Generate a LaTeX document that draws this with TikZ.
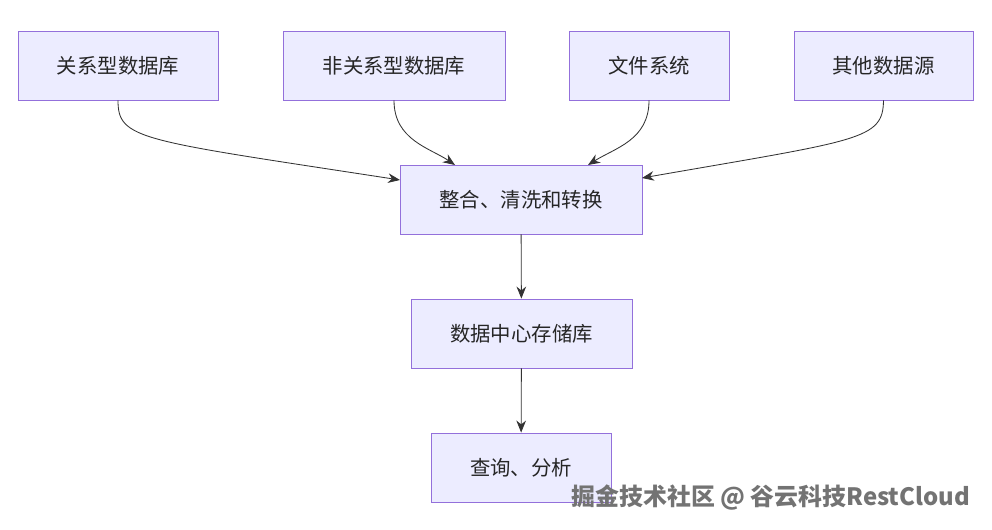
\documentclass[tikz,border=0pt]{standalone}
\usepackage{fontspec}
\newfontfamily\cjk{Noto Sans CJK SC}
\usetikzlibrary{positioning,arrows.meta}
\definecolor{boxfill}{HTML}{ECECFF}
\definecolor{boxline}{HTML}{9370DB}
\definecolor{edgecol}{HTML}{333333}
\begin{document}
\begin{tikzpicture}
[x=0.025cm, y=-0.025cm, font=\cjk\fontsize{14.5}{16}\selectfont,
    box/.style={rectangle, fill=boxfill, draw=boxline, semithick,
        minimum height=1.725cm, align=center, text=black!85},
    flow/.style={draw=edgecol, semithick, -{Stealth[length=3mm,width=2.4mm]}},
    ]
    \useasboundingbox[fill=white] (0,0) rectangle (992,530);

    % sources
    \node[box, minimum width=5cm] (rel) at (118,65.5) {关系型数据库};
    \node[box, minimum width=5.55cm] (nosql) at (394,65.5) {非关系型数据库};
    \node[box, minimum width=4cm] (files) at (649,65.5) {文件系统};
    \node[box, minimum width=4.475cm] (other) at (883.5,65.5) {其他数据源};

    % pipeline
    \node[box, minimum width=6.05cm] (merge) at (521,199.5) {整合、清洗和转换};
    \node[box, minimum width=5.525cm] (store) at (521.5,333.5) {数据中心存储库};
    \node[box, minimum width=4.5cm] (query) at (521,467.5) {查询、分析};

    \coordinate (mergeL) at (400,180);
    \coordinate (mergeR) at (642,178);
    \coordinate (mergeA) at (455,165);
    \coordinate (mergeB) at (588,165);

    \draw[flow] (rel.south) .. controls (118,140) and (140,140) .. (mergeL);
    \draw[flow] (nosql.south) .. controls (394,140) and (430,148) .. (mergeA);
    \draw[flow] (files.south) .. controls (649,140) and (615,148) .. (mergeB);
    \draw[flow] (other.south) .. controls (883,140) and (860,140) .. (mergeR);
    \draw[flow] (merge) -- (store);
    \draw[flow] (store) -- (query);

    \node[anchor=east, text=black!55, font=\cjk\fontsize{17}{19}\selectfont\bfseries] (mark) at (975,498) {掘金技术社区 @ 谷云科技RestCloud};
\end{tikzpicture}
\end{document}
